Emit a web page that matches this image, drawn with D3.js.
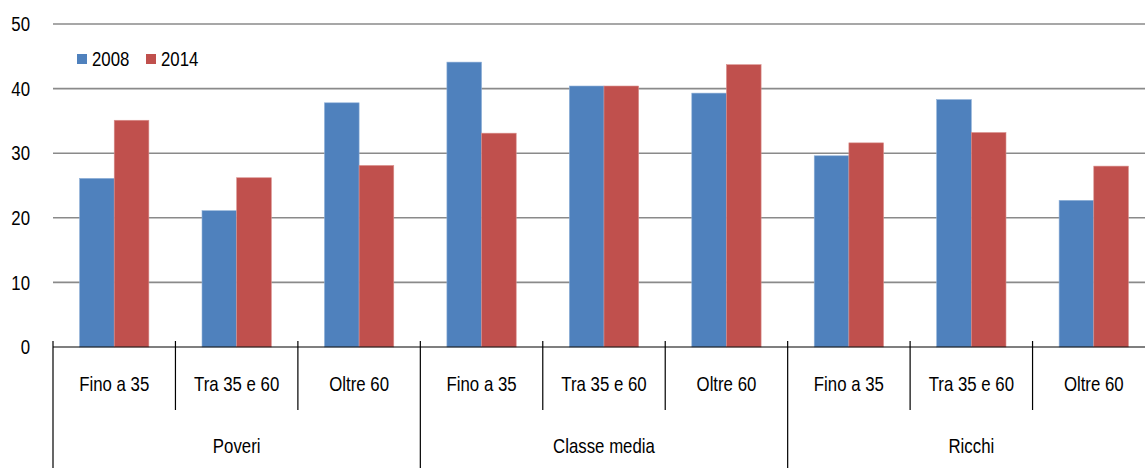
<!DOCTYPE html>
<html>
<head>
<meta charset="utf-8">
<script src="https://cdn.jsdelivr.net/npm/d3@7"></script>
<style>
  body { margin: 0; background: #fff; }
  svg text { font-family: "Liberation Sans", Arial, sans-serif; fill: #000; }
</style>
</head>
<body>
<div class="chart"></div>
<script>
  // data
  var groups = ['Poveri', 'Classe media', 'Ricchi'];
  var ages = ['Fino a 35', 'Tra 35 e 60', 'Oltre 60'];
  var series = ['2008', '2014'];
  var values2008 = [26.1, 21.1, 37.8, 44.1, 40.4, 39.3, 29.6, 38.3, 22.7];
  var values2014 = [35.1, 26.2, 28.1, 33.1, 40.4, 43.7, 31.6, 33.2, 28.0];
  var yTicks = [0, 10, 20, 30, 40, 50];
  var colors = ['#4f81bd', '#c0504d'];

  var width = 1145;
  var height = 468;
  // the original font is a narrow sans, so squeeze the text a bit
  var squeeze = 0.82;

  var svg = d3.select('.chart')
    .append('svg')
    .attr('width', width)
    .attr('height', height);

  function place(x, y) {
    return 'translate(' + x + ',' + y + ') scale(' + squeeze + ',1)';
  }

  // one row per bar pair
  var rows = [];
  groups.forEach(function(g, gi) {
    ages.forEach(function(a, ai) {
      var i = gi * ages.length + ai;
      rows.push({ key: g + '|' + a, group: g, age: a, vals: [values2008[i], values2014[i]] });
    });
  });

  var x0 = d3.scaleBand()
    .domain(rows.map(function(d) { return d.key; }))
    .range([53, 1155]);

  var pad = 0.217;
  var x1 = d3.scaleBand()
    .domain(series)
    .range([x0.bandwidth() * pad, x0.bandwidth() * (1 - pad)]);

  var y = d3.scaleLinear().domain([0, 50]).range([347, 24]);

  // gridlines
  svg.append('g')
    .selectAll('line')
    .data(yTicks.slice(1))
    .enter()
    .append('line')
    .attr('x1', 53)
    .attr('x2', width)
    .attr('y1', function(d) { return y(d); })
    .attr('y2', function(d) { return y(d); })
    .attr('stroke', '#8a8a8a')
    .attr('stroke-width', 1.6);

  // y labels
  svg.append('g')
    .selectAll('text')
    .data(yTicks)
    .enter()
    .append('text')
    .attr('transform', function(d) { return place(30, y(d)); })
    .attr('dy', '0.35em')
    .attr('text-anchor', 'end')
    .style('font-size', '20.5px')
    .text(function(d) { return d; });

  // bars
  var bars = svg.append('g')
    .selectAll('g')
    .data(rows)
    .enter()
    .append('g')
    .attr('transform', function(d) { return 'translate(' + x0(d.key) + ',0)'; });

  bars.selectAll('rect')
    .data(function(d) { return d.vals.map(function(v, i) { return { s: series[i], v: v, i: i }; }); })
    .enter()
    .append('rect')
    .attr('x', function(d) { return x1(d.s); })
    .attr('width', x1.bandwidth())
    .attr('y', function(d) { return y(d.v); })
    .attr('height', function(d) { return y(0) - y(d.v); })
    .attr('fill', function(d) { return colors[d.i]; })
    .attr('stroke', function(d) { return d.i === 0 ? '#8eb0d8' : '#d98f8c'; })
    .attr('stroke-width', 0.6);

  // x axis line
  svg.append('line')
    .attr('x1', 53).attr('x2', width)
    .attr('y1', y(0)).attr('y2', y(0))
    .attr('stroke', '#000').attr('stroke-width', 1.2);

  // separators between categories
  var seps = d3.range(rows.length + 1);
  svg.append('g')
    .selectAll('line')
    .data(seps)
    .enter()
    .append('line')
    .attr('x1', function(d) { return 53 + d * x0.step(); })
    .attr('x2', function(d) { return 53 + d * x0.step(); })
    .attr('y1', y(0) - 6)
    .attr('y2', function(d) { return d % ages.length === 0 ? height : 410; })
    .attr('stroke', '#000')
    .attr('stroke-width', 1.2);

  // age labels
  svg.append('g')
    .selectAll('text')
    .data(rows)
    .enter()
    .append('text')
    .attr('transform', function(d) { return place(x0(d.key) + x0.bandwidth() / 2, 384); })
    .attr('dy', '0.35em')
    .attr('text-anchor', 'middle')
    .style('font-size', '20.5px')
    .text(function(d) { return d.age; });

  // group labels
  svg.append('g')
    .selectAll('text')
    .data(groups)
    .enter()
    .append('text')
    .attr('transform', function(d) {
      return place(53 + (groups.indexOf(d) + 0.5) * ages.length * x0.step(), 446);
    })
    .attr('dy', '0.35em')
    .attr('text-anchor', 'middle')
    .style('font-size', '20.5px')
    .text(function(d) { return d; });

  // legend
  var legend = svg.append('g')
    .selectAll('g')
    .data(series)
    .enter()
    .append('g')
    .attr('transform', function(d, i) { return 'translate(' + (77 + i * 69) + ',54)'; });

  legend.append('rect')
    .attr('width', 10)
    .attr('height', 10)
    .attr('fill', function(d, i) { return colors[i]; });

  legend.append('text')
    .attr('transform', place(15, 5))
    .attr('dy', '0.35em')
    .style('font-size', '20.5px')
    .text(function(d) { return d; });
</script>
</body>
</html>
